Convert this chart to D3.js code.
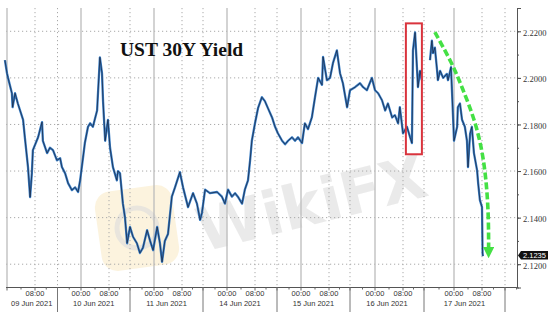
<!DOCTYPE html>
<html lang="en">
<head>
    <meta charset="UTF-8">
    <title>UST 30Y Yield</title>
    <script src="https://cdnjs.cloudflare.com/ajax/libs/d3/7.8.5/d3.min.js"></script>
    <style>
        body, html {
            margin: 0;
            padding: 0;
            width: 554px;
            height: 314px;
            overflow: hidden;
            background: #fff;
        }
        .axis text { fill: #333; }
    </style>
</head>
<body>
    <div id="chart"></div>

    <script>
        // trading days shown (weekend 12-13 Jun skipped)
        const dayLabels = ["09 Jun 2021", "10 Jun 2021", "11 Jun 2021", "14 Jun 2021",
                           "15 Jun 2021", "16 Jun 2021", "17 Jun 2021"];

        // session time = trading day index * 24 + hour of day
        const times = [
            -0.6, 0, 0.3, 1.4, 1.6, 2.3, 3.1, 4.6, 5.1, 6.0, 6.6, 7.1, 7.4, 9.1, 10.5, 10.8, 12.3, 13.3, 14.4, 15.8, 16.9, 17.5, 18.6, 19.6, 20.9, 22.0, 23.0, 23.7,
            24.6, 25.1, 26.0, 26.6, 27.4, 28.6, 28.9, 29.4, 30.0, 30.3, 30.9, 31.7, 32.4, 33.5, 35.0, 35.4, 36.2, 37.3, 38.1, 38.9, 40.0, 41.0, 42.3, 43.3, 44.3, 45.7, 46.7, 47.7,
            48.9, 49.7, 50.3, 51.1, 52.0, 53.1, 54.0, 55.4, 56.4, 58.3, 60.2, 61.7, 62.9, 63.6, 64.7, 66.3, 68.7, 70.3, 71.3,
            72.3, 73.4, 74.3, 75.1, 76.3, 77.1, 78.0, 78.6, 79.1, 80.0, 81.1, 82.5, 83.6, 84.7, 86.2, 87.3, 88.3, 89.7, 90.7, 91.7, 93.0, 94.0, 95.0,
            96.3, 97.1, 98.0, 99.1, 100.0, 100.9, 102.0, 102.3, 103.4, 104.4, 105.5, 107.0, 108.2, 109.3, 110.9, 112.0, 113.6, 115.2, 116.2, 117.4, 119.0,
            120.0, 120.9, 122.0, 122.9, 123.7, 124.9, 125.7, 126.6, 127.1, 128.0, 129.5, 130.7, 131.4, 131.8, 132.6, 133.3, 133.7, 134.5, 135.2,
            136.4,
            137.6, 138.1, 138.4, 138.9, 139.5, 139.7, 140.3, 141.1, 142.1, 142.4, 143.2, 143.7,
            144.0, 144.9, 145.1, 145.7, 146.3, 147.1, 147.7, 148.0, 148.6, 149.1, 149.7, 150.6, 150.9, 151.4, 152.0, 152.2, 152.3
        ];

        const yields = [
            2.2076, 2.2020, 2.2000, 2.1934, 2.1874, 2.1934, 2.1890, 2.1820, 2.1745, 2.1617, 2.1488, 2.1590, 2.1690, 2.1745, 2.1810, 2.1730, 2.1677, 2.1700, 2.1690, 2.1646, 2.1655, 2.1617, 2.1590, 2.1548, 2.1518, 2.1530, 2.1510, 2.1560,
            2.1660, 2.1720, 2.1790, 2.1805, 2.1790, 2.1860, 2.1947, 2.2088, 2.2020, 2.1900, 2.1730, 2.1820, 2.1700, 2.1617, 2.1560, 2.1600, 2.1590, 2.1460, 2.1400, 2.1290, 2.1360, 2.1318, 2.1290, 2.1248, 2.1270, 2.1346, 2.1300, 2.1260,
            2.1360, 2.1290, 2.1210, 2.1300, 2.1330, 2.1490, 2.1530, 2.1595, 2.1530, 2.1445, 2.1505, 2.1460, 2.1390, 2.1420, 2.1520, 2.1505, 2.1510, 2.1490, 2.1460,
            2.1520, 2.1490, 2.1505, 2.1490, 2.1460, 2.1520, 2.1560, 2.1646, 2.1730, 2.1805, 2.1870, 2.1917, 2.1900, 2.1870, 2.1830, 2.1790, 2.1762, 2.1730, 2.1715, 2.1730, 2.1745, 2.1730, 2.1745,
            2.1720, 2.1805, 2.1780, 2.1830, 2.1917, 2.2000, 2.1970, 2.2090, 2.1990, 2.2000, 2.2063, 2.2118, 2.2020, 2.1977, 2.1874, 2.1947, 2.1960, 2.1977, 2.1960, 2.1947, 2.2000,
            2.1947, 2.1934, 2.1904, 2.1860, 2.1890, 2.1830, 2.1840, 2.1805, 2.1874, 2.1762, 2.1790, 2.1745, 2.1720, 2.2118, 2.2195, 2.2046, 2.1960, 2.2030, 2.1990,
            null,
            2.2076, 2.2160, 2.2106, 2.2130, 2.2030, 2.1990, 2.2030, 2.2000, 2.2017, 2.1990, 2.2046, 2.1850,
            2.1730, 2.1790, 2.1874, 2.1890, 2.1820, 2.1790, 2.1730, 2.1617, 2.1760, 2.1790, 2.1677, 2.1603, 2.1548, 2.1475, 2.1445, 2.1248, 2.1235
        ];

        const yTicks = [2.12, 2.14, 2.16, 2.18, 2.20, 2.22];

        // annotations
        const boxTimes = [129.1, 135.2];
        const boxYields = [2.2234, 2.1672];
        const arrowTimes = [138.9, 143.5, 146.3, 150.0, 152.3, 153.7, 154.3, 154.3];
        const arrowYields = [2.2196, 2.2063, 2.1960, 2.1818, 2.1676, 2.1531, 2.1389, 2.1250];

        const width = 554, height = 314;
        const plotLeft = 6, plotRight = 517, plotTop = 8, plotBottom = 287.5;

        // bloomberg style compressed session axis: knots every 8 hours
        const knotHours = d3.range(0, 168, 8);
        const knotX = [7, 35, 57.5, 81, 109, 130, 154, 182, 203, 227, 255, 277,
                       301, 329, 350, 375, 403, 424, 454, 482, 505];
        const x = d3.scaleLinear().domain(knotHours).range(knotX);
        const y = d3.scaleLinear().domain([2.11, 2.23]).range([plotBottom, plotTop]);
        const tStart = x.invert(plotLeft), tEnd = x.invert(plotRight);

        const svg = d3.select("#chart").append("svg")
            .attr("width", width).attr("height", height)
            .style("font-family", "'Liberation Sans', Arial, sans-serif");

        // watermark
        const wm = svg.append("g").attr("opacity", 0.75);
        wm.append("rect")
            .attr("x", 98).attr("y", 188).attr("width", 78).attr("height", 80).attr("rx", 16)
            .attr("transform", "rotate(-8,137,228)")
            .attr("fill", "#fbf0d4");
        wm.append("circle").attr("cx", 137).attr("cy", 228).attr("r", 20)
            .attr("fill", "none").attr("stroke", "#e2ddd2").attr("stroke-width", 5);
        wm.append("text")
            .attr("x", 203).attr("y", 252)
            .attr("transform", "rotate(-14,203,252)")
            .style("font-family", "'DejaVu Sans', sans-serif")
            .style("font-weight", "bold").style("font-size", "60px")
            .attr("fill", "#e4e4e4")
            .text("WikiFX");

        // grid
        const grid = svg.append("g");
        grid.selectAll(".hgrid").data(yTicks).enter().append("line")
            .attr("x1", plotLeft).attr("x2", plotRight)
            .attr("y1", d => y(d)).attr("y2", d => y(d))
            .attr("stroke", "#a9a9a9").attr("stroke-width", 1)
            .attr("stroke-dasharray", "1.2,2.8");

        const vHours = knotHours.filter(h => h >= 0 && h < tEnd);
        grid.selectAll(".vgrid").data(vHours).enter().append("line")
            .attr("x1", d => x(d)).attr("x2", d => x(d))
            .attr("y1", plotTop).attr("y2", plotBottom)
            .attr("stroke", d => d % 24 === 0 ? "#bcbcbc" : "#a9a9a9")
            .attr("stroke-width", d => d % 24 === 0 ? 1.3 : 1)
            .attr("stroke-dasharray", d => d % 24 === 0 ? null : "1.2,2.8");

        // yield line
        const pts = times.map((t, i) => ({t: t, v: yields[i]}));
        const line = d3.line()
            .defined(d => d.v != null)
            .x(d => x(d.t)).y(d => y(d.v));

        svg.append("path").datum(pts)
            .attr("d", line).attr("fill", "none")
            .attr("stroke", "#3c80c8").attr("stroke-width", 2.3)
            .attr("stroke-linejoin", "round");
        svg.append("path").datum(pts)
            .attr("d", line).attr("fill", "none")
            .attr("stroke", "#16223a").attr("stroke-width", 0.9)
            .attr("opacity", 0.8);

        // red highlight box
        svg.append("rect")
            .attr("x", x(boxTimes[0])).attr("y", y(boxYields[0]))
            .attr("width", x(boxTimes[1]) - x(boxTimes[0]))
            .attr("height", y(boxYields[1]) - y(boxYields[0]))
            .attr("fill", "none").attr("stroke", "#d9343d").attr("stroke-width", 2);

        // green dashed arrow
        svg.append("defs").append("marker")
            .attr("id", "head").attr("viewBox", "0 0 10 10")
            .attr("refX", 5).attr("refY", 5)
            .attr("markerWidth", 3.2).attr("markerHeight", 3.2)
            .attr("markerUnits", "strokeWidth")
            .attr("orient", "auto")
            .append("path").attr("d", "M0,0L10,5L0,10Z").attr("fill", "#44e044");

        const arrowPts = arrowTimes.map((t, i) => [x(t), y(arrowYields[i])]);
        svg.append("path")
            .attr("d", d3.line().curve(d3.curveBasis)(arrowPts))
            .attr("fill", "none").attr("stroke", "#44e044")
            .attr("stroke-width", 3.6).attr("stroke-dasharray", "7,3")
            .attr("marker-end", "url(#head)");

        // title
        svg.append("text")
            .attr("x", 120).attr("y", 56)
            .style("font-family", "'Liberation Serif', 'Times New Roman', serif")
            .style("font-weight", "bold").style("font-size", "19.5px")
            .attr("fill", "#111")
            .text("UST 30Y Yield");

        // right axis
        const yAxis = svg.append("g").attr("class", "axis")
            .attr("transform", `translate(${plotRight},0)`)
            .call(d3.axisRight(y).tickValues(yTicks).tickFormat(d3.format(".4f"))
                .tickSizeOuter(0).tickSize(4).tickPadding(2));
        yAxis.select(".domain").attr("stroke", "#555");
        yAxis.selectAll(".tick line").attr("stroke", "#444");
        yAxis.selectAll("text")
            .attr("dy", "0.45em")
            .style("font-family", "'Liberation Serif', serif").style("font-size", "8.5px");

        svg.append("g").attr("transform", `translate(${plotRight},0)`)
            .call(d3.axisRight(y).tickValues(d3.range(2.11, 2.2301, 0.01))
                .tickFormat("").tickSizeOuter(0).tickSize(2))
            .call(g => g.select(".domain").remove())
            .selectAll("line").attr("stroke", "#555");

        // last price tag
        const last = yields[yields.length - 1];
        const ly = y(last) - 0.5;
        svg.append("path")
            .attr("d", `M${plotRight + 1},${ly} L${plotRight + 4},${ly - 4.5} L${plotRight + 31},${ly - 4.5} L${plotRight + 31},${ly + 4} L${plotRight + 4},${ly + 4} Z`)
            .attr("fill", "#111");
        svg.append("text")
            .attr("x", plotRight + 17.5).attr("y", ly + 2.6)
            .attr("text-anchor", "middle")
            .style("font-family", "'Liberation Sans', sans-serif").style("font-size", "7.5px")
            .attr("fill", "#fff")
            .text(d3.format(".4f")(last));

        // bottom axis
        const xAxis = svg.append("g").attr("class", "axis");
        xAxis.append("line")
            .attr("x1", plotLeft).attr("x2", plotRight)
            .attr("y1", plotBottom).attr("y2", plotBottom)
            .attr("stroke", "#555");

        const minorHours = d3.range(0, tEnd, 4);
        xAxis.selectAll(".mt").data(minorHours).enter().append("line")
            .attr("x1", d => x(d)).attr("x2", d => x(d))
            .attr("y1", plotBottom).attr("y2", d => plotBottom + (d % 8 === 0 ? 3 : 2))
            .attr("stroke", "#666");

        // session separators at 16:00
        const sepHours = dayLabels.map((d, i) => i * 24 + 16).filter(h => h < tEnd - 2);
        xAxis.selectAll(".sep").data(sepHours).enter().append("line")
            .attr("x1", d => x(d)).attr("x2", d => x(d))
            .attr("y1", plotBottom).attr("y2", 312)
            .attr("stroke", "#777").attr("stroke-width", 1);

        const hourLabels = [];
        dayLabels.forEach((d, i) => {
            if (i > 0) hourLabels.push({t: i * 24, s: "00:00"});
            hourLabels.push({t: i * 24 + 8, s: "08:00"});
        });
        xAxis.selectAll(".hl").data(hourLabels).enter().append("text")
            .attr("x", d => x(d.t)).attr("y", 296)
            .attr("text-anchor", "middle")
            .style("font-size", "7.5px")
            .text(d => d.s);

        xAxis.selectAll(".dl").data(dayLabels).enter().append("text")
            .attr("x", (d, i) => (x(Math.max(i * 24 - 8, tStart)) + x(i * 24 + 16)) / 2)
            .attr("y", 306)
            .attr("text-anchor", "middle")
            .style("font-size", "7.5px")
            .text(d => d);
    </script>
</body>
</html>
